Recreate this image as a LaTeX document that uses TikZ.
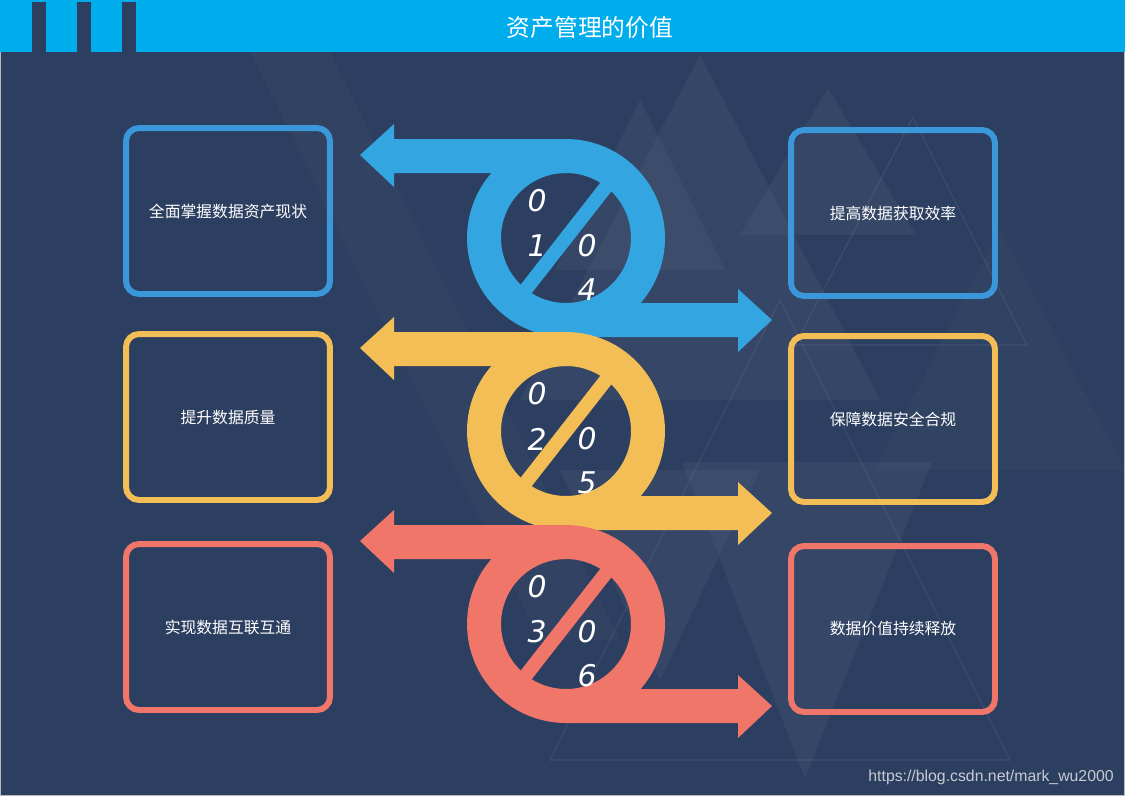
\documentclass[tikz,border=0pt]{standalone}
\usepackage{fontspec}
\newfontfamily\cjk{Noto Sans CJK SC}
\newfontfamily\digitfont{DejaVu Sans}
\newfontfamily\urlfont{Liberation Sans}
\definecolor{bgnavy}{HTML}{2D3F60}
\definecolor{headblue}{HTML}{00ADEC}
\definecolor{loopblue}{HTML}{33A5E1}
\definecolor{boxblue}{HTML}{3A97DA}
\definecolor{loopyellow}{HTML}{F2BE55}
\definecolor{loopred}{HTML}{F0766A}
\definecolor{urlgray}{HTML}{C5CAD3}

\begin{document}
\begin{tikzpicture}[x=0.02cm,y=-0.02cm,
  valuebox/.style={draw=#1,line width=3.4pt,rounded corners=0.26cm,minimum width=4.08cm,minimum height=3.32cm,text=white,font=\cjk\fontsize{9}{11}\selectfont},
  digit/.style={text=white,font=\digitfont\itshape\fontsize{17}{20}\selectfont,inner sep=0pt},
  bgtri/.style={fill=white,fill opacity=0.04},
  bgline/.style={draw=white,draw opacity=0.08,line width=0.6pt}]
\useasboundingbox (0,0) rectangle (1125,796);

% Background
\fill[bgnavy] (0,0) rectangle (1125,796);
\fill[bgtri] (700,55) -- (880,400) -- (520,400) -- cycle;
\fill[bgtri] (828,88) -- (916,235) -- (740,235) -- cycle;
\fill[bgtri] (640,100) -- (725,270) -- (555,270) -- cycle;
\fill[bgtri,fill opacity=0.025] (1000,230) -- (1125,470) -- (875,470) -- cycle;
\fill[bgtri] (682,462) -- (932,462) -- (805,778) -- cycle;
\fill[bgtri] (560,470) -- (760,470) -- (660,680) -- cycle;
\fill[bgtri,fill opacity=0.02] (250,52) -- (330,52) -- (620,640) -- (540,640) -- cycle;
\draw[bgline] (913,117) -- (1027,345) -- (795,345) -- cycle;
\draw[bgline] (780,300) -- (1010,760) -- (550,760) -- cycle;
\draw[gray!55,line width=0.6pt] (0.5,0.5) rectangle (1124.5,795.5);

% Header bar
\fill[headblue] (0,0) rectangle (1125,52);
\fill[bgnavy] (32,2) rectangle (46,52);
\fill[bgnavy] (77,2) rectangle (91,52);
\fill[bgnavy] (122,2) rectangle (136,52);
\node[text=white,font=\cjk\fontsize{13.5}{16}\selectfont] (title) at (590,28) {资产管理的价值};

% Loop arrows with numbers
\foreach \c/\cy/\a/\b in {loopblue/238/1/4,loopyellow/431/2/5,loopred/624/3/6}{
  \fill[\c,even odd rule] (566,\cy) circle[radius=1.98cm] (566,\cy) circle[radius=1.3cm];
  \fill[\c] (360,\cy-83) -- (394,\cy-114) -- (394,\cy-99) -- (566,\cy-99) -- (566,\cy-65) -- (394,\cy-65) -- (394,\cy-51) -- cycle;
  \fill[\c] (566,\cy+65) -- (738,\cy+65) -- (738,\cy+51) -- (772,\cy+82) -- (738,\cy+114) -- (738,\cy+99) -- (566,\cy+99) -- cycle;
  \draw[\c,line width=0.28cm] (523,\cy+55) -- (609,\cy-55);
  \node[digit] (z\a) at (537,\cy-37) {0};
  \node[digit] (n\a) at (537,\cy+8) {\a};
  \node[digit] (z\b) at (587,\cy+8) {0};
  \node[digit] (n\b) at (587,\cy+52) {\b};
}

% Value boxes
\node[valuebox=boxblue] (grasp) at (228,211) {全面掌握数据资产现状};
\node[valuebox=loopyellow] (quality) at (228,417) {提升数据质量};
\node[valuebox=loopred] (connect) at (228,627) {实现数据互联互通};
\node[valuebox=boxblue] (access) at (893,213) {提高数据获取效率};
\node[valuebox=loopyellow] (secure) at (893,419) {保障数据安全合规};
\node[valuebox=loopred] (release) at (893,629) {数据价值持续释放};

% Watermark
\node[anchor=east,text=urlgray,font=\urlfont\fontsize{9}{11}\selectfont,inner sep=0pt] (mark) at (1114,777) {https://blog.csdn.net/mark\_wu2000};
\end{tikzpicture}
\end{document}
